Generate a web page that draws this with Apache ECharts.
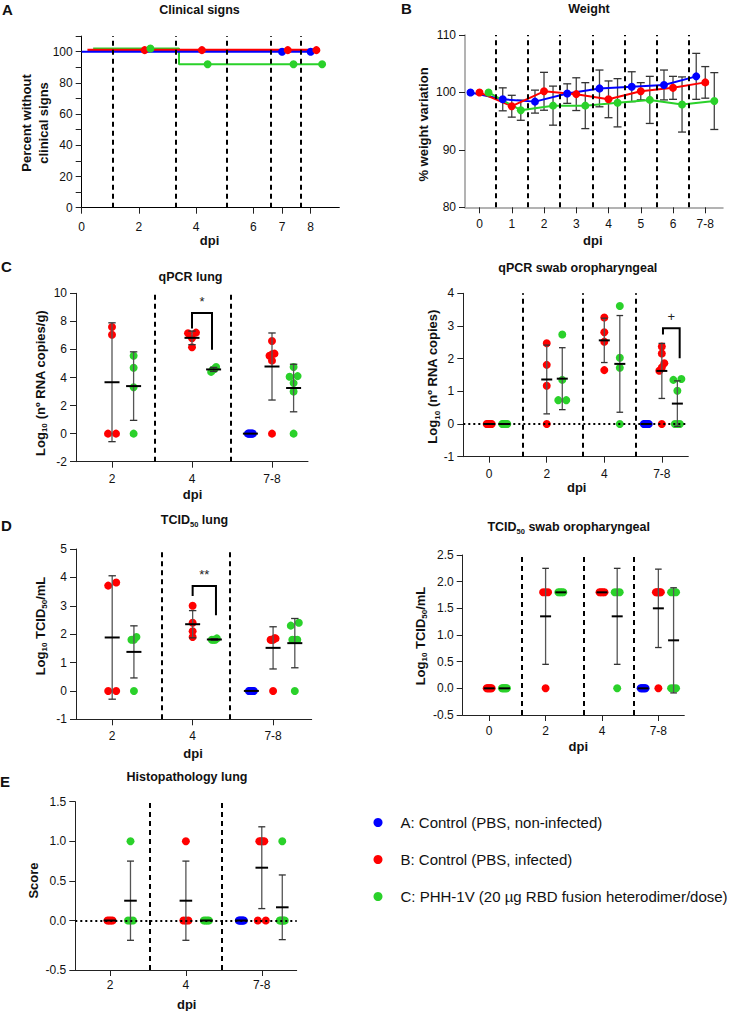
<!DOCTYPE html>
<html><head><meta charset="utf-8">
<script src="https://cdn.jsdelivr.net/npm/echarts@6/dist/echarts.min.js"></script>
<style>html,body{margin:0;padding:0;background:#fff}#c{width:733px;height:1011px}</style>
</head><body><div id="c"></div>
<script>
// ================= DATA =================
const groupNames = ['A: Control (PBS, non-infected)', 'B: Control (PBS, infected)', 'C: PHH-1V (20 µg RBD fusion heterodimer/dose)'];

// A - Clinical signs (percent without clinical signs, groups drawn with small offsets)
const clinicalTicks = [0, 2, 4, 6, 7, 8];
const clinicalBlueLine = [[0, 100], [8, 100]];
const clinicalRedLine = [[0.2, 101], [8.2, 101]];
const clinicalGreenLine = [[0.4, 102], [3.4, 102], [3.4, 92], [8.4, 92]];
const clinicalBlueCensored = [[7, 100], [8, 100]];
const clinicalRedCensored = [[2.2, 101], [4.2, 101], [7.2, 101], [8.2, 101]];
const clinicalGreenCensored = [[2.4, 102], [4.4, 92], [7.4, 92], [8.4, 92]];
const clinicalDividers = [1.09, 3.27, 5.06, 6.61, 7.64];

// B - Weight (% weight variation, mean and SD)
const weightDays = ['0', '1', '2', '3', '4', '5', '6', '7-8'];
const weightBlue = [100, 98.8, 98.4, 99.8, 100.7, 101.0, 101.3, 102.8];
const weightBlueSD = [0, 2.0, 2.0, 1.7, 3.2, 2.6, 2.6, 4.0];
const weightRed = [100, 97.6, 100.2, 99.7, 98.8, 100.2, 100.8, 101.75];
const weightRedSD = [0, 1.9, 3.3, 2.85, 3.2, 1.5, 2.0, 2.75];
const weightGreen = [100, 96.9, 97.7, 97.7, 98.2, 98.7, 97.9, 98.5];
const weightGreenSD = [0, 1.75, 3.4, 4.0, 4.2, 4.1, 4.8, 4.95];
const weightDividers = [0.5, 1.5, 2.5, 3.5, 4.5, 5.5, 6.5];

// C - qPCR lung
const qpcrLungCats = ['2', '4', '7-8'];
const qpcrLungBlue = [[], [], [0, 0, 0, 0, 0, 0]];
const qpcrLungRed = [[7.6, 7.05, 0, 0], [7.2, 7.15, 6.8, 6.15], [6.6, 5.7, 5.65, 5.55, 5.2, 0]];
const qpcrLungGreen = [[5.55, 4.7, 3.3, 0], [4.75, 4.6, 4.55, 4.4], [4.75, 4.1, 4.05, 3.6, 3.0, 0]];
const qpcrLungDividers = [0.53, 1.48];
const qpcrLungBracket = [1.0, 1.25, 7.5, 8.6, 5.98];
const qpcrLungMark = '*';

// C - qPCR swab oropharyngeal
const qpcrSwabCats = ['0', '2', '4', '7-8'];
const qpcrSwabBlue = [[], [], [], [0, 0, 0, 0, 0, 0]];
const qpcrSwabRed = [[0, 0, 0, 0, 0, 0], [2.47, 1.81, 1.17, 0], [3.26, 2.81, 2.52, 1.65], [2.37, 2.16, 1.86, 1.73, 1.63, 0]];
const qpcrSwabGreen = [[0, 0, 0, 0, 0, 0], [2.74, 1.35, 0.73, 0.73], [3.61, 2.03, 1.72, 0], [1.38, 1.35, 1.02, 0, 0, 0]];
const qpcrSwabDividers = [0.58, 1.62, 2.55];
const qpcrSwabBracket = [3.02, 3.31, 2.74, 2.93, 2.01];
const qpcrSwabMark = '+';

// D - TCID50 lung
const tcidLungCats = ['2', '4', '7-8'];
const tcidLungBlue = [[], [], [0, 0, 0, 0, 0, 0]];
const tcidLungRed = [[3.71, 3.82, 0, 0], [3.0, 2.4, 2.1, 1.9], [1.85, 1.8, 1.8, 1.8, 1.85, 0]];
const tcidLungGreen = [[1.9, 1.8, 1.8, 0], [1.85, 1.8, 1.8, 1.8], [2.3, 2.4, 1.8, 1.8, 1.8, 0]];
const tcidLungDividers = [0.61, 1.46];
const tcidLungBracket = [1.0, 1.29, 3.34, 3.7, 2.67];
const tcidLungMark = '**';

// D - TCID50 swab oropharyngeal
const tcidSwabCats = ['0', '2', '4', '7-8'];
const tcidSwabBlue = [[], [], [], [0, 0, 0, 0, 0, 0]];
const tcidSwabRed = [[0, 0, 0, 0, 0, 0], [1.8, 1.8, 1.8, 0], [1.8, 1.8, 1.8, 1.8], [1.8, 1.8, 1.8, 1.8, 1.8, 0]];
const tcidSwabGreen = [[0, 0, 0, 0, 0, 0], [1.8, 1.8, 1.8, 1.8], [1.8, 1.8, 1.8, 0], [1.8, 1.8, 1.8, 0, 0, 0]];
const tcidSwabDividers = [0.57, 1.68, 2.56];

// E - Histopathology lung
const histoCats = ['2', '4', '7-8'];
const histoBlue = [[], [], [0, 0, 0, 0, 0, 0]];
const histoRed = [[0, 0, 0, 0], [1, 0, 0, 0], [1, 1, 1, 1, 0, 0]];
const histoGreen = [[1, 0, 0, 0], [0, 0, 0, 0], [1, 0, 0, 0, 0, 0]];
const histoDividers = [0.52, 1.47];
const histoYTicks = [-0.625, 0, 0.5, 1, 1.5];
const histoYLabels = ['-0.5', '0.0', '0.5', '1.0', '1.5'];

// ================= LAYOUT / STYLE =================
const FONT = '"Liberation Sans", Arial, Helvetica, sans-serif';
const COL = { blue: '#0000ff', red: '#ff0000', green: '#2ad12a' };
const OFF = { blue: -0.27, red: 0, green: 0.27 };
const OFFW = { blue: -0.28, red: 0, green: 0.28 };
const LAY = {
  A: { left: 81.7, top: 36.1, width: 257.6, height: 171.6, xMin: 0, xMax: 9, yMin: 0, yMax: 110 },
  B: { left: 465, top: 35, width: 258, height: 172.3, xMin: -0.45, xMax: 7.55, yMin: 80, yMax: 110 },
  C1: { left: 76, top: 293.3, width: 232, height: 168.4, xMin: -0.45, xMax: 2.45, yMin: -2, yMax: 10 },
  C2: { left: 463.3, top: 293.3, width: 225, height: 163.4, xMin: -0.45, xMax: 3.46, yMin: -1, yMax: 4 },
  D1: { left: 76, top: 549, width: 235.7, height: 170.3, xMin: -0.45, xMax: 2.48, yMin: -1, yMax: 5 },
  D2: { left: 462.7, top: 555, width: 221.6, height: 160, xMin: -0.47, xMax: 3.46, yMin: -0.5, yMax: 2.5 },
  E: { left: 75.3, top: 801.7, width: 221.4, height: 168.3, xMin: -0.457, xMax: 2.46, yMin: -0.625, yMax: 1.5 }
};

function isObj(o) { return o && typeof o === 'object' && !Array.isArray(o); }
function merge(a, b) {
  const out = Object.assign({}, a);
  for (const k in b) out[k] = (isObj(b[k]) && isObj(a[k])) ? merge(a[k], b[k]) : b[k];
  return out;
}

const grids = [], xAxes = [], yAxes = [], series = [];
function addGrid(g, xo, yo) {
  const i = grids.length;
  grids.push({ left: g.left, top: g.top, width: g.width, height: g.height, containLabel: false, outerBoundsMode: 'none' });
  const base = {
    gridIndex: i, type: 'value', splitLine: { show: false },
    axisLine: { show: true, onZero: false, lineStyle: { color: '#222', width: 1 } },
    axisTick: { show: true, length: 6, lineStyle: { color: '#222', width: 1 } },
    axisLabel: { fontSize: 12, color: '#111', fontFamily: FONT, margin: 11 }
  };
  xAxes.push(merge(merge(base, { min: g.xMin, max: g.xMax }), xo || {}));
  yAxes.push(merge(merge(base, { min: g.yMin, max: g.yMax, axisLabel: { margin: 9 } }), yo || {}));
  return i;
}

function mean(a) { return a.reduce((s, v) => s + v, 0) / a.length; }
function sdev(a) { const m = mean(a); return a.length < 2 ? 0 : Math.sqrt(a.reduce((s, v) => s + (v - m) * (v - m), 0) / (a.length - 1)); }

// spreads tied points horizontally (computed layout, beeswarm-like)
function swarm(vals, center, ux, uy) {
  const idx = vals.map((v, i) => i).sort((a, b) => vals[a] - vals[b]);
  const clusters = [];
  idx.forEach(i => {
    const last = clusters[clusters.length - 1];
    if (last && Math.abs(vals[i] - vals[last[last.length - 1]]) * uy < 4.5) last.push(i);
    else clusters.push([i]);
  });
  const out = [];
  clusters.forEach(c => {
    const n = c.length;
    const span = n === 1 ? 0 : (n === 2 ? 8 : 5);
    c.forEach((i, k) => {
      const off = n === 1 ? 0 : (k / (n - 1) - 0.5) * span;
      out.push([center + off / ux, vals[i]]);
    });
  });
  return out;
}

function statsRender(meanHalf, capHalf, whisk) {
  return function (params, api) {
    const x = api.value(0), m = api.value(1), s = api.value(2);
    const c = api.coord([x, m]), t = api.coord([x, m + s]), b = api.coord([x, m - s]);
    const ch = [];
    if (s > 1e-9) {
      ch.push({ type: 'line', shape: { x1: c[0], y1: t[1], x2: c[0], y2: b[1] }, style: { stroke: whisk, lineWidth: 1.3 } });
      ch.push({ type: 'line', shape: { x1: c[0] - capHalf, y1: t[1], x2: c[0] + capHalf, y2: t[1] }, style: { stroke: '#333', lineWidth: 1.3 } });
      ch.push({ type: 'line', shape: { x1: c[0] - capHalf, y1: b[1], x2: c[0] + capHalf, y2: b[1] }, style: { stroke: '#333', lineWidth: 1.3 } });
    }
    if (meanHalf > 0) ch.push({ type: 'line', shape: { x1: c[0] - meanHalf, y1: c[1], x2: c[0] + meanHalf, y2: c[1] }, style: { stroke: '#000', lineWidth: 2 } });
    return { type: 'group', children: ch };
  };
}

function dividerLine(divs, zero) {
  const data = divs.map(v => ({ xAxis: v }));
  if (zero) data.push({ yAxis: 0, lineStyle: { type: [2, 3], width: 2, color: '#000' } });
  return { symbol: ['none', 'none'], silent: true, animation: false, label: { show: false },
    lineStyle: { color: '#000', type: [5, 4], width: 2 }, emphasis: { disabled: true }, data };
}

function dotPanel(g, cats, groups, o) {
  const ticks = cats.map((c, i) => i);
  const gi = addGrid(g, {
    axisLabel: { customValues: ticks, formatter: v => cats[Math.round(v)], margin: o.xMargin || 11 },
    axisTick: { customValues: ticks }
  }, o.yAxis || {});
  const ux = g.width / (g.xMax - g.xMin), uy = g.height / (g.yMax - g.yMin);
  const stats = [];
  ['blue', 'red', 'green'].forEach((col, ci) => {
    const pts = [];
    groups[ci].forEach((vals, k) => {
      if (!vals.length) return;
      const c = k + OFF[col];
      swarm(vals, c, ux, uy).forEach(p => pts.push(p));
      stats.push([c, mean(vals), sdev(vals)]);
    });
    const ser = { type: 'scatter', name: groupNames[ci], xAxisIndex: gi, yAxisIndex: gi, data: pts,
      symbol: 'circle', symbolSize: 8, itemStyle: { color: COL[col], opacity: 1 }, z: 3, silent: true };
    if (col === 'red') ser.markLine = dividerLine(o.dividers, o.zero);
    series.push(ser);
  });
  series.push({ type: 'custom', xAxisIndex: gi, yAxisIndex: gi, data: stats, z: 4, silent: true,
    renderItem: statsRender(o.meanHalf, o.capHalf, '#555') });
  if (o.bracket) {
    const mark = o.mark;
    series.push({ type: 'custom', xAxisIndex: gi, yAxisIndex: gi, data: [o.bracket], z: 5, silent: true,
      renderItem: function (params, api) {
        const xl = api.value(0), xr = api.value(1), yl = api.value(2), yt = api.value(3), yr = api.value(4);
        const p1 = api.coord([xl, yl]), p2 = api.coord([xl, yt]), p3 = api.coord([xr, yt]), p4 = api.coord([xr, yr]);
        return { type: 'group', children: [
          { type: 'polyline', shape: { points: [p1, p2, p3, p4] }, style: { stroke: '#000', lineWidth: 2, fill: null } },
          { type: 'text', x: (p2[0] + p3[0]) / 2, y: p2[1] - 5, style: { text: mark, fill: '#222', fontSize: 13, fontFamily: FONT,
            align: 'center', textAlign: 'center', verticalAlign: 'bottom', textVerticalAlign: 'bottom' } }
        ] };
      } });
  }
  return gi;
}

// ---------- Panel A ----------
const gA = addGrid(LAY.A, {
  axisLabel: { customValues: clinicalTicks, margin: 13 },
  axisTick: { customValues: clinicalTicks },
  axisLine: { lineStyle: { color: '#000' } }
}, {
  interval: 10,
  axisLabel: { formatter: v => (v % 20 === 0 && v <= 100) ? String(v) : '' },
  axisLine: { lineStyle: { color: '#000' } }
});
[[clinicalBlueLine, 'blue', 2], [clinicalRedLine, 'red', 3], [clinicalGreenLine, 'green', 2]].forEach(([d, col, w], k) => {
  const s = { type: 'line', name: 'clin-' + col, xAxisIndex: gA, yAxisIndex: gA, data: d, showSymbol: false, symbol: 'none',
    lineStyle: { color: COL[col], width: w }, itemStyle: { color: COL[col] }, z: 2 - k * 0.1 + 0.3, silent: true };
  if (k === 0) s.markLine = dividerLine(clinicalDividers, false);
  series.push(s);
});
[[clinicalBlueCensored, 'blue', 0], [clinicalRedCensored, 'red', 1], [clinicalGreenCensored, 'green', 2]].forEach(([d, col, ci]) => {
  series.push({ type: 'scatter', name: groupNames[ci], xAxisIndex: gA, yAxisIndex: gA, data: d, symbol: 'circle', symbolSize: 8,
    itemStyle: { color: COL[col], opacity: 1 }, z: 4, silent: true });
});

// ---------- Panel B ----------
const weightTicks = weightDays.map((d, i) => i);
const gB = addGrid(LAY.B, {
  axisLabel: { customValues: weightTicks, formatter: v => weightDays[Math.round(v)], margin: 11 },
  axisTick: { customValues: weightTicks },
  axisLine: { lineStyle: { color: '#9a9a9a', width: 1.5 } }
}, {
  interval: 10,
  axisLine: { lineStyle: { color: '#9a9a9a', width: 1.5 } }
});
[['blue', weightBlue, weightBlueSD, 0], ['red', weightRed, weightRedSD, 1], ['green', weightGreen, weightGreenSD, 2]].forEach(([col, vals, sds, ci]) => {
  const off = OFFW[col];
  series.push({ type: 'custom', xAxisIndex: gB, yAxisIndex: gB, data: vals.map((v, i) => [i + off, v, sds[i]]), z: 2, silent: true,
    renderItem: statsRender(0, 4, '#444') });
  const s = { type: 'line', name: groupNames[ci], xAxisIndex: gB, yAxisIndex: gB, data: vals.map((v, i) => [i + off, v]),
    symbol: 'circle', symbolSize: 8, showSymbol: true, lineStyle: { color: COL[col], width: 2 }, itemStyle: { color: COL[col] }, z: 3, silent: true };
  if (ci === 0) s.markLine = dividerLine(weightDividers, false);
  series.push(s);
});

// ---------- Panels C, D, E ----------
dotPanel(LAY.C1, qpcrLungCats, [qpcrLungBlue, qpcrLungRed, qpcrLungGreen],
  { dividers: qpcrLungDividers, zero: false, meanHalf: 7.5, capHalf: 3.7, bracket: qpcrLungBracket, mark: qpcrLungMark,
    yAxis: { interval: 2 } });
dotPanel(LAY.C2, qpcrSwabCats, [qpcrSwabBlue, qpcrSwabRed, qpcrSwabGreen],
  { dividers: qpcrSwabDividers, zero: true, meanHalf: 5.5, capHalf: 3.3, bracket: qpcrSwabBracket, mark: qpcrSwabMark,
    yAxis: { interval: 1 } });
dotPanel(LAY.D1, tcidLungCats, [tcidLungBlue, tcidLungRed, tcidLungGreen],
  { dividers: tcidLungDividers, zero: false, meanHalf: 7.5, capHalf: 3.7, bracket: tcidLungBracket, mark: tcidLungMark,
    yAxis: { interval: 1 } });
dotPanel(LAY.D2, tcidSwabCats, [tcidSwabBlue, tcidSwabRed, tcidSwabGreen],
  { dividers: tcidSwabDividers, zero: false, meanHalf: 5.5, capHalf: 3.3, xMargin: 10,
    yAxis: { interval: 0.5, axisLabel: { formatter: v => v.toFixed(1) } } });
dotPanel(LAY.E, histoCats, [histoBlue, histoRed, histoGreen],
  { dividers: histoDividers, zero: true, meanHalf: 6.3, capHalf: 3.5, xMargin: 9,
    yAxis: { axisLabel: { customValues: histoYTicks, formatter: v => histoYLabels[histoYTicks.indexOf(v)] }, axisTick: { customValues: histoYTicks } } });

// ---------- Text (titles, panel letters, axis names) ----------
const sub = (sz) => ({ fontSize: sz, fontWeight: 'bold', fontFamily: FONT, fill: '#111', verticalAlign: 'bottom', lineHeight: sz });
const mainTok = (sz) => ({ fontSize: sz, fontWeight: 'bold', fontFamily: FONT, fill: '#111', verticalAlign: 'middle', lineHeight: 17 });
function gText(text, x, y, o) {
  o = o || {};
  const st = { text, fill: '#111', fontSize: o.size || 13, fontWeight: 'bold', fontFamily: FONT,
    align: o.align || 'center', textAlign: o.align || 'center', verticalAlign: 'middle', textVerticalAlign: 'middle' };
  if (o.rich) st.rich = o.rich;
  if (o.lh) st.lineHeight = o.lh;
  return { type: 'text', x, y, rotation: o.rot || 0, silent: true, style: st };
}
const R90 = Math.PI / 2;
const richT = { b: mainTok(12.5), s: sub(7.5) };
const richY = { b: mainTok(13), s: sub(8) };
const graphics = [
  gText('A', 2, 9, { size: 15, align: 'left' }),
  gText('B', 401, 8, { size: 15, align: 'left' }),
  gText('C', 1, 266.7, { size: 15, align: 'left' }),
  gText('D', 1, 525, { size: 15, align: 'left' }),
  gText('E', 0, 781, { size: 15, align: 'left' }),
  gText('Clinical signs', 199.5, 9.5, { size: 12.5 }),
  gText('Weight', 589, 9, { size: 12.5 }),
  gText('qPCR lung', 190.5, 277.3, { size: 12.5 }),
  gText('qPCR swab oropharyngeal', 577.8, 267.7, { size: 12.5 }),
  gText('{b|TCID}{s|50}{b| lung}', 194.5, 520, { rich: richT }),
  gText('{b|TCID}{s|50}{b| swab oropharyngeal}', 568.7, 527, { rich: richT }),
  gText('Histopathology lung', 187, 776.7, { size: 12.5 }),
  gText('dpi', 209.5, 240.7),
  gText('dpi', 592.8, 240),
  gText('dpi', 192.5, 494),
  gText('dpi', 576.7, 487.7),
  gText('dpi', 193, 753.3),
  gText('dpi', 578.3, 746.7),
  gText('dpi', 186.7, 1004),
  gText('Percent without\nclinical signs', 35.3, 123, { rot: R90, lh: 17 }),
  gText('% weight variation', 423.5, 124.5, { rot: R90 }),
  gText('{b|Log}{s|10}{b| (nº RNA copies/g)}', 40, 383, { rot: R90, rich: richY }),
  gText('{b|Log}{s|10}{b| (nº RNA copies)}', 432.5, 376.5, { rot: R90, rich: richY }),
  gText('{b|Log}{s|10}{b| TCID}{s|50}{b|/mL}', 40, 626, { rot: R90, rich: richY }),
  gText('{b|Log}{s|10}{b| TCID}{s|50}{b|/mL}', 420, 636, { rot: R90, rich: richY }),
  gText('Score', 33, 880.5, { rot: R90 })
];

const chart = echarts.init(document.getElementById('c'), null, { renderer: 'svg', width: 733, height: 1011 });
chart.setOption({
  animation: false,
  backgroundColor: '#ffffff',
  textStyle: { fontFamily: FONT },
  grid: grids, xAxis: xAxes, yAxis: yAxes, series,
  legend: {
    data: groupNames, orient: 'vertical', left: 368.5, top: 810, itemWidth: 9, itemHeight: 9, itemGap: 22,
    icon: 'circle', selectedMode: false,
    textStyle: { fontSize: 15, fontFamily: FONT, color: '#111', lineHeight: 15, padding: [0, 0, 0, 13] }
  },
  graphic: graphics
});
</script></body></html>
